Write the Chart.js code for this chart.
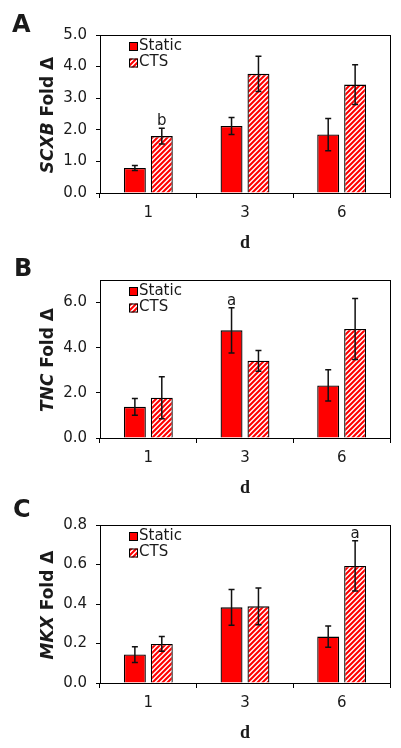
<!DOCTYPE html>
<html>
<head>
<meta charset="utf-8">
<script src="https://cdn.jsdelivr.net/npm/chart.js@4.4.0/dist/chart.umd.min.js"></script>
<style>
body { margin: 0; background: #fff; }
#wrap { position: relative; width: 401px; height: 748px; overflow: hidden; }
canvas { position: absolute; left: 0; }
</style>
</head>
<body>
<div id="wrap">
  <canvas id="chartA" width="401" height="252" style="top:0px"></canvas>
  <canvas id="chartB" width="401" height="252" style="top:245px"></canvas>
  <canvas id="chartC" width="401" height="252" style="top:490px"></canvas>
</div>
<script>
const days = ['1', '3', '6'];
const seriesNames = ['Static', 'CTS'];

// Panel A - SCXB
const scxbStatic = [0.79, 2.12, 1.85];
const scxbStaticErr = [0.08, 0.27, 0.51];
const scxbCts = [1.80, 3.77, 3.43];
const scxbCtsErr = [0.25, 0.56, 0.63];
const scxbStaticMarks = ['', '', ''];
const scxbCtsMarks = ['b', '', ''];
const scxbTicks = [0, 1, 2, 3, 4, 5];

// Panel B - TNC
const tncStatic = [1.38, 4.77, 2.33];
const tncStaticErr = [0.37, 1.0, 0.69];
const tncCts = [1.78, 3.42, 4.83];
const tncCtsErr = [0.93, 0.46, 1.35];
const tncStaticMarks = ['', 'a', ''];
const tncCtsMarks = ['', '', ''];
const tncTicks = [0, 2, 4, 6];

// Panel C - MKX
const mkxStatic = [0.144, 0.383, 0.235];
const mkxStaticErr = [0.04, 0.09, 0.054];
const mkxCts = [0.198, 0.388, 0.593];
const mkxCtsErr = [0.037, 0.093, 0.127];
const mkxStaticMarks = ['', '', ''];
const mkxCtsMarks = ['', '', 'a'];
const mkxTicks = [0, 0.2, 0.4, 0.6, 0.8];

const RED = '#ff0000';
const INK = '#1a1a1a';
Chart.defaults.font.family = 'DejaVu Sans';
Chart.defaults.color = INK;

function hatch() {
    const c = document.createElement('canvas');
    c.width = 5; c.height = 5;
    const g = c.getContext('2d');
    g.fillStyle = '#fff';
    g.fillRect(0, 0, 5, 5);
    g.strokeStyle = RED;
    g.lineWidth = 2.1;
    g.beginPath();
    g.moveTo(-1, 6); g.lineTo(6, -1);
    g.moveTo(-1, 1); g.lineTo(1, -1);
    g.moveTo(4, 6); g.lineTo(6, 4);
    g.stroke();
    return g.createPattern(c, 'repeat');
}

// frame, error bars, letters, legend, y title
const extras = {
    id: 'extras',
    afterDatasetsDraw(chart, args, opts) {
        const ctx = chart.ctx;
        const y = chart.scales.y;
        ctx.save();
        chart.data.datasets.forEach((ds, di) => {
            const meta = chart.getDatasetMeta(di);
            meta.data.forEach((bar, i) => {
                const v = ds.data[i], e = ds.errors[i];
                const top = y.getPixelForValue(v + e);
                const bot = y.getPixelForValue(v - e);
                ctx.strokeStyle = '#111';
                ctx.lineWidth = 1.5;
                ctx.beginPath();
                ctx.moveTo(bar.x, top); ctx.lineTo(bar.x, bot);
                ctx.moveTo(bar.x - 3, top); ctx.lineTo(bar.x + 3, top);
                ctx.moveTo(bar.x - 3, bot); ctx.lineTo(bar.x + 3, bot);
                ctx.stroke();
                if (ds.marks[i]) {
                    ctx.fillStyle = INK;
                    ctx.font = '15px DejaVu Sans';
                    ctx.textAlign = 'center';
                    ctx.textBaseline = 'alphabetic';
                    ctx.fillText(ds.marks[i], bar.x, top - 3);
                }
            });
        });
        ctx.restore();
    },
    afterDraw(chart, args, opts) {
        const ctx = chart.ctx;
        const a = chart.chartArea;
        ctx.save();
        // plot frame
        ctx.strokeStyle = '#000';
        ctx.lineWidth = 1;
        ctx.strokeRect(Math.round(a.left) + 0.5, Math.round(a.top) + 0.5,
            Math.round(a.right - a.left), Math.round(a.bottom - a.top));

        // legend
        ctx.font = '15px DejaVu Sans';
        ctx.textBaseline = 'middle';
        ctx.textAlign = 'left';
        chart.data.datasets.forEach((ds, di) => {
            const cy = a.top + 11 + di * 16.5;
            ctx.fillStyle = ds.backgroundColor;
            ctx.fillRect(a.left + 29, cy - 4, 9, 9);
            ctx.strokeStyle = '#000';
            ctx.strokeRect(a.left + 29.5, cy - 3.5, 8, 8);
            ctx.fillStyle = INK;
            ctx.fillText(ds.label, a.left + 39, cy);
        });

        // y title: italic gene + upright "Fold Δ"
        const f1 = 'italic bold 17px DejaVu Sans';
        const f2 = 'bold 17px DejaVu Sans';
        ctx.font = f1;
        const w1 = ctx.measureText(opts.gene).width;
        ctx.font = f2;
        const w2 = ctx.measureText(' Fold Δ').width;
        ctx.translate(49, (a.top + a.bottom) / 2 + 1);
        ctx.rotate(-Math.PI / 2);
        ctx.fillStyle = INK;
        ctx.textBaseline = 'middle';
        ctx.font = f1;
        ctx.fillText(opts.gene, -(w1 + w2) / 2, 0);
        ctx.font = f2;
        ctx.fillText(' Fold Δ', -(w1 + w2) / 2 + w1, 0);
        ctx.setTransform(1, 0, 0, 1, 0, 0);

        // panel letter
        ctx.font = 'bold 24px DejaVu Sans';
        ctx.textBaseline = 'alphabetic';
        ctx.fillStyle = INK;
        ctx.fillText(opts.letter, opts.letterX, opts.letterY);
        ctx.restore();
    }
};

function makePanel(id, letter, letterX, letterY, gene, stat, statErr, statMarks, cts, ctsErr, ctsMarks, yMax, yTicks, digits) {
    const ctx = document.getElementById(id).getContext('2d');
    new Chart(ctx, {
        type: 'bar',
        data: {
            labels: days,
            datasets: [{
                label: seriesNames[0],
                data: stat,
                errors: statErr,
                marks: statMarks,
                backgroundColor: RED,
                borderColor: '#000',
                borderWidth: 1.3,
                categoryPercentage: 0.557,
                barPercentage: 0.815
            }, {
                label: seriesNames[1],
                data: cts,
                errors: ctsErr,
                marks: ctsMarks,
                backgroundColor: hatch(),
                borderColor: '#000',
                borderWidth: 1.3,
                categoryPercentage: 0.557,
                barPercentage: 0.815
            }]
        },
        options: {
            responsive: false,
            animation: false,
            layout: { padding: { top: 35, right: 11, left: 0, bottom: 0 } },
            scales: {
                x: {
                    offset: true,
                    grid: { drawOnChartArea: false, tickLength: 5, color: '#000', offset: true },
                    border: { color: '#000' },
                    ticks: { font: { size: 15 }, color: INK, padding: 6 },
                    title: {
                        display: true,
                        text: 'd',
                        color: INK,
                        font: { family: 'Liberation Serif', weight: 'bold', size: 18, lineHeight: 1 },
                        padding: { top: 0, bottom: 0 }
                    },
                    afterFit: s => { s.height = 59; }
                },
                y: {
                    min: 0,
                    max: yMax,
                    grid: { drawOnChartArea: false, tickLength: 4, color: '#000' },
                    border: { color: '#000' },
                    afterBuildTicks: s => { s.ticks = yTicks.map(v => ({ value: v })); },
                    ticks: { font: { size: 15 }, color: INK, padding: 9, callback: v => Number(v).toFixed(digits) },
                    afterFit: s => { s.width = 100; }
                }
            },
            plugins: {
                legend: { display: false },
                tooltip: { enabled: false },
                extras: { gene: gene, letter: letter, letterX: letterX, letterY: letterY }
            }
        },
        plugins: [extras]
    });
}

makePanel('chartA', 'A', 12, 31.5, 'SCXB', scxbStatic, scxbStaticErr, scxbStaticMarks,
    scxbCts, scxbCtsErr, scxbCtsMarks, 5, scxbTicks, 1);
makePanel('chartB', 'B', 14, 31, 'TNC', tncStatic, tncStaticErr, tncStaticMarks,
    tncCts, tncCtsErr, tncCtsMarks, 7, tncTicks, 1);
makePanel('chartC', 'C', 13, 26.5, 'MKX', mkxStatic, mkxStaticErr, mkxStaticMarks,
    mkxCts, mkxCtsErr, mkxCtsMarks, 0.8, mkxTicks, 1);
</script>
</body>
</html>
